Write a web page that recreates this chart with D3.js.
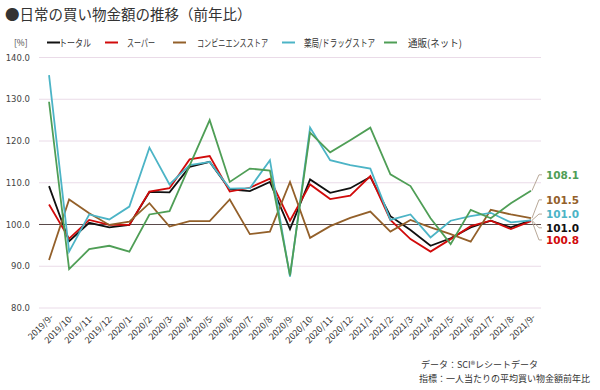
<!DOCTYPE html>
<html>
<head>
<meta charset="utf-8">
<script src="https://cdn.jsdelivr.net/npm/d3@7"></script>
<style>
  body { margin: 0; background: #fff; }
  text { font-family: "Noto Sans CJK JP", "Noto Sans", sans-serif; }
  .num { font-family: "DejaVu Sans", Verdana, sans-serif; }
</style>
</head>
<body>
<div id="chart"></div>
<script>
// months (x categories)
const months = ['2019/9-','2019/10-','2019/11-','2019/12-','2020/1-','2020/2-','2020/3-','2020/4-','2020/5-',
  '2020/6-','2020/7-','2020/8-','2020/9-','2020/10-','2020/11-','2020/12-','2021/1-','2021/2-','2021/3-',
  '2021/4-','2021/5-','2021/6-','2021/7-','2021/8-','2021/9-'];

const yTicks = [80, 90, 100, 110, 120, 130, 140];

// series values (% vs previous year)
const total    = [109.2, 96.0, 100.4, 99.3, 99.9, 107.8, 107.7, 113.8, 115.0, 108.4, 108.0, 110.2, 98.9,
                  110.8, 107.6, 108.7, 111.4, 102.0, 98.7, 94.9, 96.7, 99.3, 100.9, 99.3, 101.0];
const superMkt = [104.8, 96.6, 101.1, 99.9, 99.9, 107.9, 108.7, 115.6, 116.4, 107.9, 108.8, 111.0, 100.9,
                  109.6, 106.1, 106.9, 111.6, 101.1, 96.5, 93.5, 96.5, 99.6, 100.9, 98.9, 100.8];
const conv     = [91.5, 106.0, 102.7, 99.9, 100.7, 105.1, 99.5, 100.8, 100.8, 106.0, 97.7, 98.3, 110.2,
                  96.8, 99.6, 101.6, 103.1, 98.3, 101.1, 99.3, 97.7, 95.9, 103.5, 102.4, 101.5];
const pharmacy = [135.8, 93.5, 102.4, 101.2, 104.3, 118.4, 109.6, 114.2, 115.0, 108.6, 108.7, 115.4, 87.5,
                  123.2, 115.4, 114.2, 113.4, 101.1, 102.4, 96.9, 100.9, 102.0, 102.8, 100.5, 101.0];
const net      = [129.4, 89.3, 94.1, 94.9, 93.5, 102.4, 103.2, 114.1, 125.0, 110.2, 113.4, 112.9, 87.8,
                  122.0, 117.3, 120.2, 123.2, 112.0, 109.2, 101.5, 95.3, 103.5, 101.5, 105.1, 108.1];

const seriesNames = ['トータル', 'スーパー', 'コンビニエンスストア', '薬局/ドラッグストア', '通販(ネット)'];
const seriesData = [total, superMkt, conv, pharmacy, net];
const colors = ['#111111', '#d10a0a', '#93602a', '#4cb4c6', '#4f9e56'];

// where each end label sits on the value axis (spread apart so they don't collide)
const endLabelAt = [99.2, 96.3, 105.9, 102.5, 111.9];

const width = 600, height = 390;
const svg = d3.select('#chart').append('svg')
  .attr('width', width)
  .attr('height', height);

const x = d3.scalePoint().domain(months).range([39, 541]).padding(0.5);
const y = d3.scaleLinear().domain([80, 140]).range([308, 57.5]);

// title
svg.append('text')
  .attr('x', 5).attr('y', 20)
  .attr('font-size', 14.5)
  .attr('fill', '#333')
  .text('●日常の買い物金額の推移（前年比）');

// unit
svg.append('text')
  .attr('x', 14).attr('y', 46)
  .attr('font-size', 8.5)
  .attr('fill', '#444')
  .text('[%]');

// legend
const legendLineX = [47, 105, 173, 282, 384];
const legendTextX = [59, 127, 197, 304, 408];
const legendTextW = [32, 28, 71, 71, 54];
const legend = svg.selectAll('.legend')
  .data(seriesNames)
  .enter().append('g')
  .attr('class', 'legend')
  .attr('transform', 'translate(0,42.5)');

legend.append('line')
  .attr('x1', (d, i) => legendLineX[i])
  .attr('x2', (d, i) => legendLineX[i] + 13)
  .attr('stroke', (d, i) => colors[i])
  .attr('stroke-width', 2);

legend.append('text')
  .attr('x', (d, i) => legendTextX[i])
  .attr('y', 4)
  .attr('font-size', 10)
  .attr('fill', '#333')
  .attr('textLength', (d, i) => legendTextW[i])
  .attr('lengthAdjust', 'spacingAndGlyphs')
  .text(d => d);

// gridlines
svg.append('g')
  .selectAll('line')
  .data(yTicks.filter(t => t !== 100))
  .enter().append('line')
  .attr('x1', 39).attr('x2', 541)
  .attr('y1', d => y(d)).attr('y2', d => y(d))
  .attr('stroke', '#eadbe8')
  .attr('stroke-width', 1);

// y tick labels
svg.append('g')
  .selectAll('text')
  .data(yTicks)
  .enter().append('text')
  .attr('class', 'num')
  .attr('x', 30)
  .attr('y', d => y(d) + 3)
  .attr('text-anchor', 'end')
  .attr('font-size', 8.5)
  .attr('fill', '#444')
  .text(d => d.toFixed(1));

// x tick labels
svg.append('g')
  .selectAll('text')
  .data(months)
  .enter().append('text')
  .attr('font-size', 9)
  .attr('fill', '#333')
  .attr('text-anchor', 'end')
  .attr('transform', d => `translate(${x(d) + 5},318) rotate(-45)`)
  .text(d => d);

// baseline at 100
svg.append('line')
  .attr('x1', 39).attr('x2', 541)
  .attr('y1', y(100)).attr('y2', y(100))
  .attr('stroke', '#5a4a4a')
  .attr('stroke-width', 1.2);

// lines
const line = d3.line()
  .x((d, i) => x(months[i]))
  .y(d => y(d));

svg.append('g')
  .selectAll('path')
  .data(seriesData)
  .enter().append('path')
  .attr('fill', 'none')
  .attr('stroke', (d, i) => colors[i])
  .attr('stroke-width', 1.8)
  .attr('stroke-linejoin', 'miter')
  .attr('d', line);

// end labels with leader lines
const last = months[months.length - 1];
const ends = svg.append('g');
seriesData.forEach((s, i) => {
  const v = s[s.length - 1];
  const x0 = x(last), y0 = y(v);
  const ly = y(endLabelAt[i]);
  ends.append('path')
    .attr('fill', 'none')
    .attr('stroke', '#b8a898')
    .attr('stroke-width', 1)
    .attr('d', `M${x0 + 1},${y0} L${x0 + 8},${ly} L${x0 + 11},${ly}`);
  ends.append('text')
    .attr('class', 'num')
    .attr('x', x0 + 15)
    .attr('y', ly + 4)
    .attr('font-size', 10.5)
    .attr('font-weight', 'bold')
    .attr('fill', i === 0 ? '#111' : colors[i])
    .text(v.toFixed(1));
});

// footer
svg.append('text')
  .attr('x', 421).attr('y', 368)
  .attr('font-size', 9)
  .attr('fill', '#333')
  .text('データ：SCI®レシートデータ');
svg.append('text')
  .attr('x', 419).attr('y', 382)
  .attr('font-size', 9)
  .attr('fill', '#333')
  .text('指標：一人当たりの平均買い物金額前年比');
</script>
</body>
</html>
